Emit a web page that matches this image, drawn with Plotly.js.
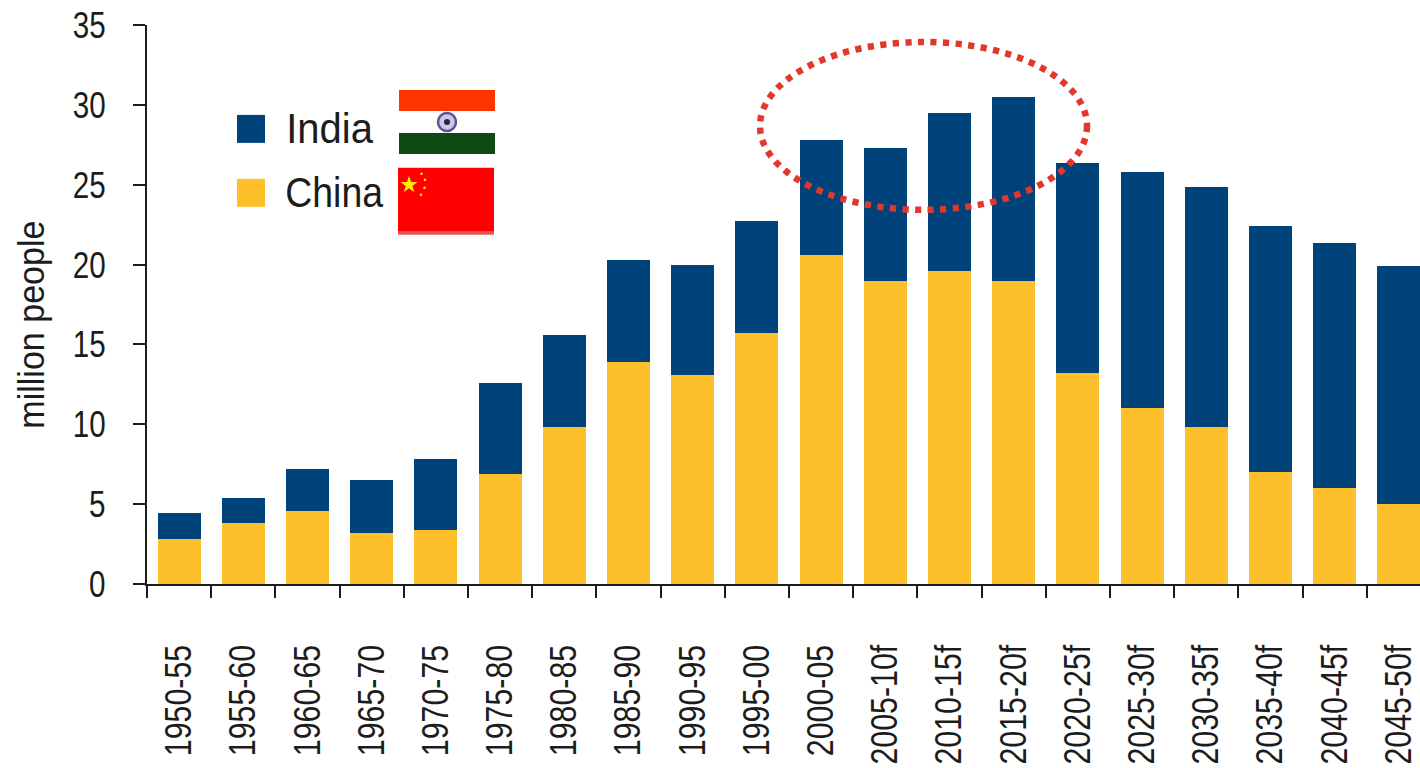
<!DOCTYPE html>
<html><head><meta charset="utf-8">
<script src="https://cdn.plot.ly/plotly-3.0.1.min.js"></script>
<style>html,body{margin:0;padding:0;background:#fff;overflow:hidden}#c{width:1420px;height:768px}</style>
</head><body><div id="c"></div>
<script>
const categories=["1950-55","1955-60","1960-65","1965-70","1970-75","1975-80","1980-85","1985-90","1990-95","1995-00","2000-05","2005-10f","2010-15f","2015-20f","2020-25f","2025-30f","2030-35f","2035-40f","2040-45f","2045-50f"];
const china=[2.8,3.8,4.6,3.2,3.4,6.9,9.8,13.9,13.1,15.7,20.6,19,19.6,19,13.2,11,9.8,7,6,5];
const india=[1.65,1.6,2.6,3.3,4.4,5.7,5.8,6.4,6.9,7.0,7.2,8.3,9.9,11.5,13.15,14.8,15.05,15.4,15.35,14.9];
const NAVY="#00437a",GOLD="#fdc02a",INK="#1c1c1c";
const FONT='"Liberation Sans",sans-serif';
const W=1420,H=768,L=147,T=25,B=584.5;
const px=x=>(x-L)/(W-L), py=y=>(B-y)/(B-T);
const box=(x0,y0,x1,y1,fill)=>({type:"rect",xref:"paper",yref:"paper",x0:px(x0),x1:px(x1),y0:py(y0),y1:py(y1),fillcolor:fill,line:{width:0}});
const circ=(cx,cy,r,fill,line,lw)=>({type:"circle",xref:"paper",yref:"paper",x0:px(cx-r),x1:px(cx+r),y0:py(cy-r),y1:py(cy+r),fillcolor:fill,line:{width:lw||0,color:line||fill}});
function star(cx,cy,r){let p=[];for(let i=0;i<10;i++){const a=-Math.PI/2+i*Math.PI/5,q=i%2?r*0.38:r;p.push((i?"L":"M")+px(cx+q*Math.cos(a)).toFixed(5)+","+py(cy+q*Math.sin(a)).toFixed(5));}
  return {type:"path",xref:"paper",yref:"paper",path:p.join(" ")+" Z",fillcolor:"#ffee00",line:{width:0}};}
const shapes=[
  box(237,115,265,143,NAVY),box(237,179,265,207,GOLD),
  box(399,90,495,111,"#ff3300"),box(399,111,495,133,"#ffffff"),box(399,133,495,154,"#0b4a12"),
  circ(447,122,9,"#cfc6e0","#5f5098",2.5),circ(447,122,3,"#2a1f5c"),
  box(398,168,494,232,"#fe0000"),box(398,232,494,235,"#e0555a"),
  star(409,185,9),circ(421.5,174,1.3,"#ffee00"),circ(425,180,1.3,"#ffee00"),circ(424.5,188,1.3,"#ffee00"),circ(421,195,1.3,"#ffee00"),
  {type:"circle",xref:"paper",yref:"paper",x0:px(760),x1:px(1087),y0:py(42),y1:py(210),fillcolor:"rgba(0,0,0,0)",line:{color:"#e2382c",width:6.5,dash:"6.2px,6.4px"}}
];
const note=(txt,x,y)=>({text:txt,xref:"paper",yref:"paper",x:px(x),y:py(y),xanchor:"left",yanchor:"middle",showarrow:false,font:{family:FONT,size:43,color:INK}});
const traces=[
  {type:"bar",name:"China",x:categories,y:china,marker:{color:GOLD}},
  {type:"bar",name:"India",x:categories,y:india,marker:{color:NAVY}}
];
const layout={width:W,height:H,barmode:"stack",bargap:0.33,showlegend:false,paper_bgcolor:"#fff",plot_bgcolor:"#fff",
  margin:{l:L,r:0,t:T,b:H-B,pad:0},font:{family:FONT,color:INK},
  xaxis:{type:"category",range:[-0.5,19.33],tickson:"boundaries",ticks:"outside",ticklen:12,tickwidth:2,tickcolor:INK,showline:true,linecolor:INK,linewidth:2,showgrid:false,tickangle:-90,ticklabelstandoff:44,tickfont:{family:FONT,size:37,color:INK},zeroline:false,automargin:false},
  yaxis:{range:[0,35],tickvals:[0,5,10,15,20,25,30,35],ticks:"outside",ticklen:12,tickwidth:2,tickcolor:INK,showline:true,linecolor:INK,linewidth:2,showgrid:false,zeroline:false,ticklabelstandoff:20,tickfont:{family:FONT,size:37,color:INK},automargin:false},
  shapes:shapes,
  annotations:[note("India",280.5,128),note("China",276,192),
    {text:"million people",xref:"paper",yref:"paper",x:px(32),y:py(325),xanchor:"center",yanchor:"middle",textangle:-90,showarrow:false,font:{family:FONT,size:37,color:INK}}]
};
function squeezeEl(t,f){const w=t.getComputedTextLength();t.setAttribute("textLength",(w*f).toFixed(1));t.setAttribute("lengthAdjust","spacingAndGlyphs");}
function squeeze(sel,f){document.querySelectorAll(sel).forEach(t=>squeezeEl(t,f));}
Plotly.newPlot("c",traces,layout,{displayModeBar:false,staticPlot:true}).then(()=>{
  squeeze(".ytick text",0.8);
  squeeze(".xtick text",0.82);
  const a=document.querySelectorAll(".annotation-text");
  squeezeEl(a[0],0.93);squeezeEl(a[1],0.87);squeezeEl(a[2],0.92);
});
</script></body></html>
